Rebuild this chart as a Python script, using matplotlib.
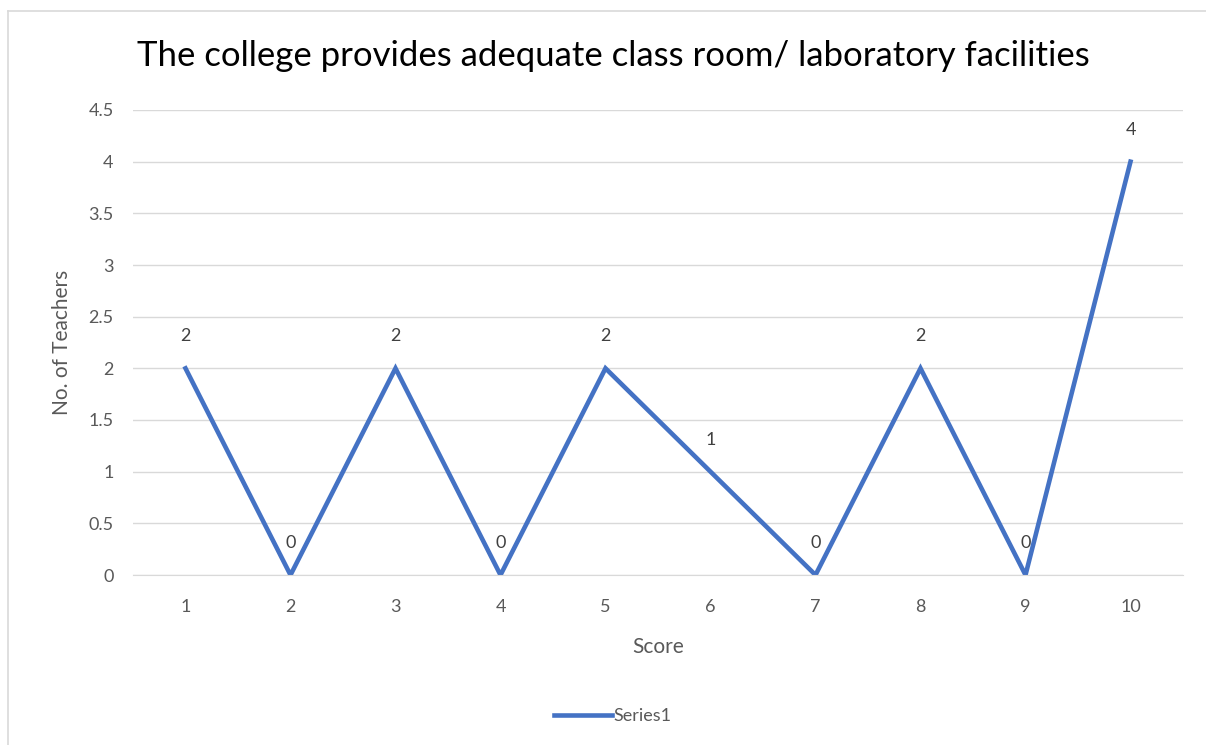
import matplotlib.pyplot as plt
from matplotlib.lines import Line2D

scores = ['1', '2', '3', '4', '5', '6', '7', '8', '9', '10']
teachers = [2, 0, 2, 0, 2, 1, 0, 2, 0, 4]

blue = '#4472C4'
grey = '#595959'
plt.rcParams['font.family'] = ['Lato', 'DejaVu Sans']

W, H = 1206, 745
fig = plt.figure(figsize=(W / 100, H / 100), dpi=100)

# chart area border, left and top edges
border = dict(color='#d9d9d9', linewidth=1.2, transform=fig.transFigure)
fig.lines.append(Line2D([8 / W, 8 / W], [0, 1 - 11 / H], **border))
fig.lines.append(Line2D([8 / W, 1], [1 - 11 / H, 1 - 11 / H], **border))

ax = fig.add_axes([133 / W, 1 - 575 / H, (1183 - 133) / W, (575 - 110) / H])
x = list(range(len(scores)))
ax.plot(x, teachers, color=blue, linewidth=3.3, solid_joinstyle='miter')

for xi, v in zip(x, teachers):
    ax.annotate(str(v), (xi, v), xytext=(0, 23), textcoords='offset points',
                ha='center', va='center', fontsize=13, color='#404040')

ax.set_xlim(-0.5, len(scores) - 0.5)
ax.set_ylim(0, 4.5)
ax.set_yticks([0, 0.5, 1, 1.5, 2, 2.5, 3, 3.5, 4, 4.5])
ax.set_yticklabels(['0', '0.5', '1', '1.5', '2', '2.5', '3', '3.5', '4', '4.5'])
ax.set_xticks(x)
ax.set_xticklabels(scores)
ax.grid(axis='y', color='#d9d9d9', linewidth=1)
ax.set_axisbelow(True)
for s in ['top', 'right', 'left']:
    ax.spines[s].set_visible(False)
ax.spines['bottom'].set_color('#d9d9d9')
ax.tick_params(length=0, labelsize=13, labelcolor=grey)
ax.tick_params(axis='x', pad=17)
ax.tick_params(axis='y', pad=14)

ax.set_xlabel('Score', fontsize=15, color=grey, labelpad=16)
ax.set_ylabel('No. of Teachers', fontsize=15, color=grey, labelpad=12)

fig.text(137 / W, 1 - 56 / H, 'The college provides adequate class room/ laboratory facilities',
         fontsize=25, color='black', ha='left', va='center')

handle = Line2D([], [], color=blue, linewidth=3.3)
fig.legend([handle], ['Series1'], loc='center', bbox_to_anchor=(613 / W, 1 - 716 / H),
           frameon=False, fontsize=13, labelcolor=grey, handlelength=3.2,
           handletextpad=0.1)

fig.savefig('out.png', dpi=100)
